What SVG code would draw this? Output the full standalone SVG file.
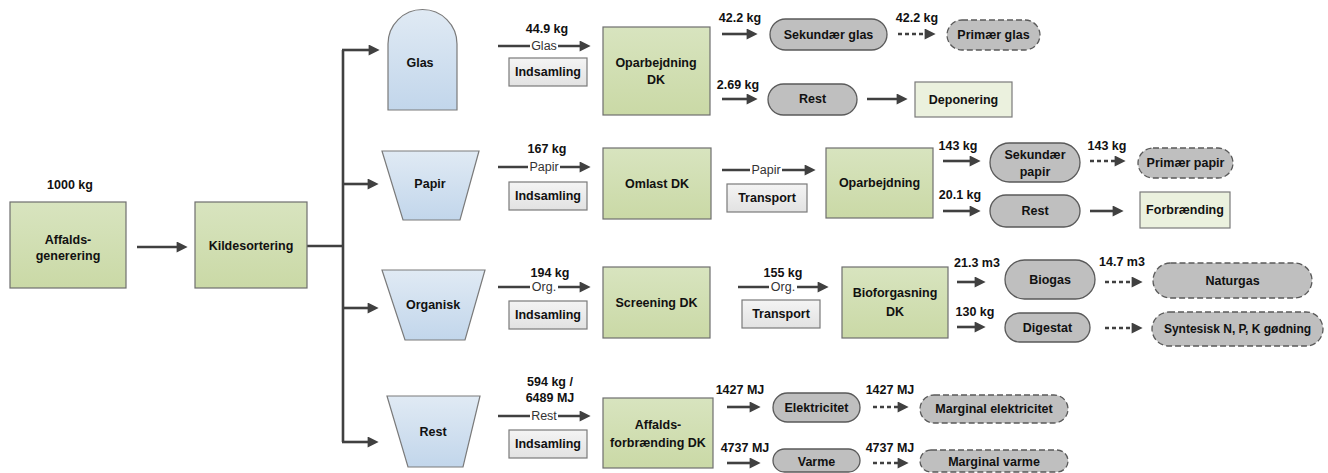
<svg xmlns="http://www.w3.org/2000/svg" width="1328" height="473" viewBox="0 0 1328 473">
<defs>
<linearGradient id="gGreen" x1="0" y1="0" x2="0" y2="1"><stop offset="0" stop-color="#d8e4bf"/><stop offset="1" stop-color="#cad9a6"/></linearGradient>
<linearGradient id="gGray" x1="0" y1="0" x2="0" y2="1"><stop offset="0" stop-color="#f4f4f4"/><stop offset="1" stop-color="#e2e2e2"/></linearGradient>
<linearGradient id="gBlue" x1="0" y1="0" x2="0" y2="1"><stop offset="0" stop-color="#e0eaf4"/><stop offset="1" stop-color="#c2d6eb"/></linearGradient>
<marker id="ah" viewBox="0 0 10 10" markerUnits="userSpaceOnUse" markerWidth="12" markerHeight="11" refX="4" refY="5" orient="auto"><path d="M0,0 L10,5 L0,10 Z" fill="#404040"/></marker>
</defs>
<style>
.g{fill:url(#gGreen);stroke:#6e6e6e;stroke-width:1.2}
.p{fill:url(#gGray);stroke:#7a7a7a;stroke-width:1.2}
.lg{fill:#ebf1de;stroke:#7a7a7a;stroke-width:1.2}
.pill{fill:#bfbfbf;stroke:#5a5a5a;stroke-width:1.3}
.dpill{fill:#bfbfbf;stroke:#5a5a5a;stroke-width:1.3;stroke-dasharray:6 3}
.c{fill:url(#gBlue);stroke:#7a7a7a;stroke-width:1.2}
.t{font-family:"Liberation Sans",Arial,sans-serif;font-size:12.5px;font-weight:bold;fill:#111;text-anchor:middle}
.s{font-size:12px}
.n{font-family:"Liberation Sans",Arial,sans-serif;font-size:12.5px;fill:#333;text-anchor:middle}
.a{stroke:#404040;stroke-width:2.6;fill:none;marker-end:url(#ah)}
.d{stroke:#404040;stroke-width:2.6;fill:none;stroke-dasharray:4 3;marker-end:url(#ah)}
.l{stroke:#404040;stroke-width:2.6;fill:none}
.bg{fill:#fff}
</style>

<g id="connectors">
<line class="a" x1="137" y1="247" x2="181" y2="247"/>
<polyline class="l" points="307,246 343,246"/>
<line class="l" x1="343" y1="50" x2="343" y2="442"/>
<line class="a" x1="342" y1="50" x2="373" y2="50"/>
<line class="a" x1="343" y1="184" x2="372" y2="184"/>
<line class="a" x1="343" y1="308" x2="372" y2="308"/>
<line class="a" x1="342" y1="442" x2="372" y2="442"/>
<!-- row 1 -->
<line class="a" x1="498" y1="46" x2="584" y2="46"/>
<rect class="bg" x="530" y="38" width="28" height="15"/>
<text class="n" x="544" y="50">Glas</text>
<line class="a" x1="722" y1="34" x2="751" y2="34"/>
<line class="d" x1="898" y1="34" x2="929" y2="34"/>
<line class="a" x1="722" y1="99" x2="751" y2="99"/>
<line class="a" x1="867" y1="99" x2="901" y2="99"/>
<!-- row 2 -->
<line class="a" x1="498" y1="167" x2="584" y2="167"/>
<rect class="bg" x="528" y="159" width="32" height="15"/>
<text class="n" x="544" y="171">Papir</text>
<line class="a" x1="722" y1="170" x2="809" y2="170"/>
<rect class="bg" x="750" y="162" width="32" height="15"/>
<text class="n" x="766" y="174">Papir</text>
<line class="a" x1="943" y1="161" x2="974" y2="161"/>
<line class="d" x1="1090" y1="161" x2="1119" y2="161"/>
<line class="a" x1="943" y1="211" x2="974" y2="211"/>
<line class="a" x1="1090" y1="211" x2="1117" y2="211"/>
<!-- row 3 -->
<line class="a" x1="498" y1="287" x2="584" y2="287"/>
<rect class="bg" x="530" y="279" width="28" height="15"/>
<text class="n" x="544" y="291">Org.</text>
<line class="a" x1="738" y1="287" x2="822" y2="287"/>
<rect class="bg" x="769" y="279" width="28" height="15"/>
<text class="n" x="783" y="291">Org.</text>
<line class="a" x1="957" y1="282" x2="979" y2="282"/>
<line class="d" x1="1105" y1="282" x2="1136" y2="282"/>
<line class="a" x1="957" y1="327" x2="979" y2="327"/>
<line class="d" x1="1105" y1="328" x2="1136" y2="328"/>
<!-- row 4 -->
<line class="a" x1="498" y1="416" x2="584" y2="416"/>
<rect class="bg" x="530" y="408" width="28" height="15"/>
<text class="n" x="544" y="420">Rest</text>
<line class="a" x1="727" y1="407" x2="754" y2="407"/>
<line class="d" x1="873" y1="407" x2="902" y2="407"/>
<line class="a" x1="727" y1="463" x2="754" y2="463"/>
<line class="d" x1="873" y1="463" x2="902" y2="463"/>
</g>

<g id="labels">
<text class="t" x="70" y="189">1000 kg</text>
<text class="t" x="547" y="33">44.9 kg</text>
<text class="t" x="740" y="22">42.2 kg</text>
<text class="t" x="917" y="22">42.2 kg</text>
<text class="t" x="738" y="89">2.69 kg</text>
<text class="t" x="547" y="153">167 kg</text>
<text class="t" x="958" y="150">143 kg</text>
<text class="t" x="1107" y="150">143 kg</text>
<text class="t" x="960" y="199">20.1 kg</text>
<text class="t" x="550" y="277">194 kg</text>
<text class="t" x="783" y="277">155 kg</text>
<text class="t" x="977" y="267">21.3 m3</text>
<text class="t" x="1122" y="266">14.7 m3</text>
<text class="t" x="975" y="316">130 kg</text>
<text class="t" x="550" y="386">594 kg /</text>
<text class="t" x="550" y="402">6489 MJ</text>
<text class="t" x="740" y="394">1427 MJ</text>
<text class="t" x="890" y="394">1427 MJ</text>
<text class="t" x="745" y="452">4737 MJ</text>
<text class="t" x="890" y="452">4737 MJ</text>
</g>

<g id="affaldsgenerering"><rect class="g" x="10" y="202" width="116" height="86"/><text class="t" x="68" y="244">Affalds-</text><text class="t" x="68" y="260">generering</text></g>
<g id="kildesortering"><rect class="g" x="195" y="202" width="112" height="86"/><text class="t" x="251" y="250">Kildesortering</text></g>

<g id="glas"><path class="c" d="M388,110 L388,44 A34.5,34.5 0 0 1 457,44 L457,110 Z"/><text class="t" x="420" y="67">Glas</text></g>
<g id="indsamling1"><rect class="p" x="509" y="58" width="78" height="28"/><text class="t" x="548" y="76">Indsamling</text></g>
<g id="oparbejdning-dk"><rect class="g" x="603" y="27" width="107" height="88"/><text class="t" x="656" y="67">Oparbejdning</text><text class="t" x="656" y="84">DK</text></g>
<g id="sekundaer-glas"><rect class="pill" x="770" y="19" width="117" height="31" rx="15.5"/><text class="t" x="828.5" y="39">Sekundær glas</text></g>
<g id="primaer-glas"><rect class="dpill" x="947" y="20" width="93" height="30" rx="15"/><text class="t" x="993.5" y="39">Primær glas</text></g>
<g id="rest-glas"><rect class="pill" x="768" y="84" width="89" height="31" rx="15.5"/><text class="t" x="812.5" y="103">Rest</text></g>
<g id="deponering"><rect class="lg" x="915" y="82" width="97" height="35"/><text class="t" x="963.5" y="104">Deponering</text></g>

<g id="papir"><polygon class="c" points="382,151 479,151 460,220 403,220"/><text class="t" x="430" y="188">Papir</text></g>
<g id="indsamling2"><rect class="p" x="509" y="182" width="78" height="28"/><text class="t" x="548" y="200">Indsamling</text></g>
<g id="omlast-dk"><rect class="g" x="603" y="148" width="108" height="71"/><text class="t" x="657" y="188">Omlast DK</text></g>
<g id="transport1"><rect class="p" x="727" y="184" width="80" height="28"/><text class="t" x="767" y="202">Transport</text></g>
<g id="oparbejdning"><rect class="g" x="826" y="148" width="107" height="70"/><text class="t" x="879.5" y="187">Oparbejdning</text></g>
<g id="sekundaer-papir"><rect class="pill" x="990" y="143" width="90" height="39" rx="19.5"/><text class="t" x="1035" y="159">Sekundær</text><text class="t" x="1035" y="176">papir</text></g>
<g id="primaer-papir"><rect class="dpill" x="1138" y="148" width="95" height="30" rx="15"/><text class="t" x="1185.5" y="167">Primær papir</text></g>
<g id="rest-papir"><rect class="pill" x="990" y="195" width="90" height="32" rx="16"/><text class="t" x="1035" y="215">Rest</text></g>
<g id="forbraending"><rect class="lg" x="1140" y="192" width="90" height="36"/><text class="t" x="1185" y="214">Forbrænding</text></g>

<g id="organisk"><polygon class="c" points="382,270 485,270 465,340 405,340"/><text class="t" x="433" y="309">Organisk</text></g>
<g id="indsamling3"><rect class="p" x="509" y="301" width="78" height="28"/><text class="t" x="548" y="319">Indsamling</text></g>
<g id="screening-dk"><rect class="g" x="603" y="267" width="107" height="71"/><text class="t" x="656.5" y="307">Screening DK</text></g>
<g id="transport2"><rect class="p" x="742" y="300" width="78" height="28"/><text class="t" x="781" y="318">Transport</text></g>
<g id="bioforgasning-dk"><rect class="g" x="842" y="267" width="106" height="71"/><text class="t" x="895" y="297">Bioforgasning</text><text class="t" x="895" y="316">DK</text></g>
<g id="biogas"><rect class="pill" x="1005" y="260" width="90" height="39" rx="19.5"/><text class="t" x="1050" y="284">Biogas</text></g>
<g id="naturgas"><rect class="dpill" x="1153" y="263" width="159" height="35" rx="17.5"/><text class="t" x="1232.5" y="285">Naturgas</text></g>
<g id="digestat"><rect class="pill" x="1005" y="313" width="85" height="29" rx="14.5"/><text class="t" x="1047.5" y="332">Digestat</text></g>
<g id="syntesisk"><rect class="dpill" x="1152" y="312" width="171" height="34" rx="17"/><text class="t s" x="1237.5" y="333">Syntesisk N, P, K gødning</text></g>

<g id="rest"><polygon class="c" points="387,396 480,396 463,467 408,467"/><text class="t" x="433" y="436">Rest</text></g>
<g id="indsamling4"><rect class="p" x="509" y="430" width="78" height="28"/><text class="t" x="548" y="448">Indsamling</text></g>
<g id="affaldsforbraending-dk"><rect class="g" x="603" y="398" width="110" height="70"/><text class="t" x="658" y="429">Affalds-</text><text class="t" x="658" y="447">forbrænding DK</text></g>
<g id="elektricitet"><rect class="pill" x="773" y="393" width="87" height="29" rx="14.5"/><text class="t" x="816.5" y="412">Elektricitet</text></g>
<g id="marginal-elektricitet"><rect class="dpill" x="920" y="395" width="148" height="28" rx="14"/><text class="t" x="994" y="413">Marginal elektricitet</text></g>
<g id="varme"><rect class="pill" x="773" y="449" width="87" height="23" rx="11.5"/><text class="t" x="816.5" y="466">Varme</text></g>
<g id="marginal-varme"><rect class="dpill" x="920" y="450" width="148" height="22" rx="11"/><text class="t" x="994" y="466">Marginal varme</text></g>
</svg>
